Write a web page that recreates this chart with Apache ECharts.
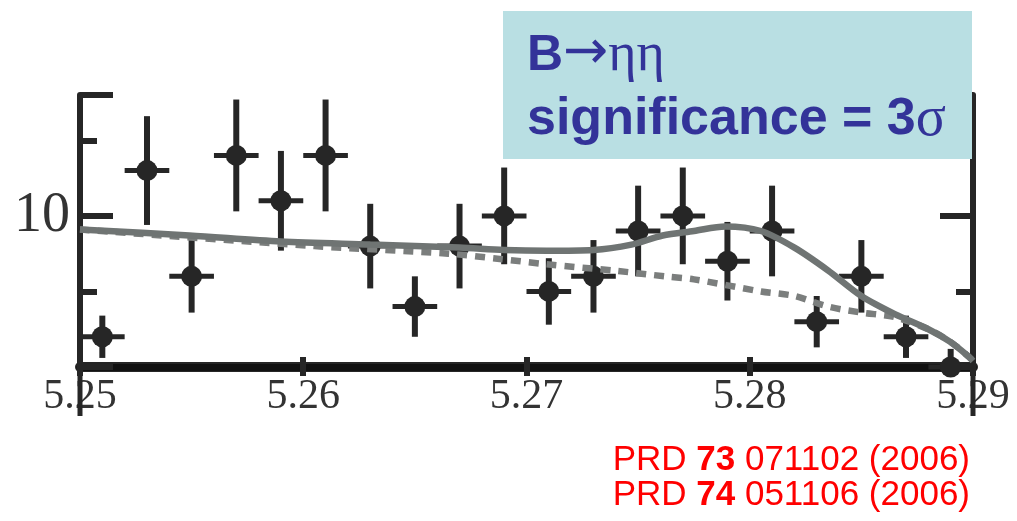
<!DOCTYPE html>
<html>
<head>
<meta charset="utf-8">
<script src="https://cdn.jsdelivr.net/npm/echarts@6/dist/echarts.min.js"></script>
<style>
  html, body { margin: 0; padding: 0; background: #fff; }
  #chart { width: 1017px; height: 521px; }
</style>
</head>
<body>
<div id="chart"></div>
<script>
// Mbc bin centres (GeV) and event counts with their error bars
const binX = [5.251, 5.253, 5.255, 5.257, 5.259, 5.261, 5.263, 5.265, 5.267, 5.269,
  5.271, 5.273, 5.275, 5.277, 5.279, 5.281, 5.283, 5.285, 5.287, 5.289]
const counts = [2, 13, 6, 14, 11, 14, 8, 4, 8, 10, 5, 6, 9, 10, 7, 9, 3, 6, 2, 0]
const errs = [1.4, 3.6, 2.4, 3.7, 3.3, 3.7, 2.8, 2.0, 2.8, 3.2, 2.2, 2.4, 3.0, 3.2, 2.6, 3.0, 1.7, 2.4, 1.4, 1.2]
const binHalf = 0.001

// total fit (solid)
const fitX = [5.25, 5.2549, 5.259, 5.263, 5.267, 5.269, 5.2709, 5.273, 5.2747, 5.2761,
  5.2775, 5.2789, 5.2805, 5.282, 5.2835, 5.285, 5.2865, 5.288, 5.289, 5.2898, 5.29]
const fitY = [9.1, 8.7, 8.3, 8.1, 7.9, 7.75, 7.7, 7.75, 8.1, 8.7,
  9.0, 9.3, 9.0, 7.9, 6.4, 4.7, 3.5, 2.5, 1.65, 0.7, 0.4]

// background (dashed)
const bkgX = [5.25, 5.2605, 5.2665, 5.2688, 5.2709, 5.2741, 5.2762, 5.2775, 5.2805,
  5.282, 5.2835, 5.285, 5.2865, 5.288, 5.289, 5.2898, 5.29]
const bkgY = [9.1, 8.0, 7.5, 7.15, 6.8, 6.35, 6.0, 5.8, 5.0,
  4.7, 4.0, 3.6, 3.3, 2.5, 1.65, 0.7, 0.4]

const xTicks = { min: 5.25, max: 5.29, step: 0.01 }
const yTicks = { min: 0, max: 18, step: 5 }
const yLabels = [10]

const ink = '#262626'
const serif = 'Liberation Serif'
const blue = '#333399'
const red = '#ff0000'

const chart = echarts.init(document.getElementById('chart'))

const baseX = {
  type: 'value', min: xTicks.min, max: xTicks.max, interval: xTicks.step,
  splitLine: { show: false }
}
const baseY = {
  type: 'value', min: yTicks.min, max: yTicks.max,
  splitLine: { show: false }
}

chart.setOption({
  animation: false,
  backgroundColor: '#fff',
  grid: { left: 80, right: 44, top: 95, bottom: 154 },
  xAxis: [
    {
      ...baseX, position: 'bottom',
      axisLine: { lineStyle: { color: ink, width: 10 } },
      axisTick: { inside: true, length: 10, lineStyle: { color: ink, width: 6 } },
      axisLabel: {
        color: '#333', fontFamily: serif, fontSize: 42, margin: 9,
        showMinLabel: true, showMaxLabel: true,
        formatter: v => v.toFixed(2)
      }
    },
    {
      ...baseX, position: 'bottom',
      axisLine: { show: false },
      axisTick: { inside: false, length: 9, lineStyle: { color: ink, width: 6 } },
      axisLabel: { show: false }
    },
    {
      ...baseX, position: 'top',
      axisLine: { lineStyle: { color: '#111', width: 7 } },
      axisTick: { show: false }, axisLabel: { show: false }
    }
  ],
  yAxis: [
    {
      ...baseY, interval: yTicks.step, position: 'left',
      axisLine: { show: true, lineStyle: { color: ink, width: 6 } },
      axisTick: { show: true, inside: true, length: 17, lineStyle: { color: ink, width: 6 } },
      axisLabel: {
        color: '#333', fontFamily: serif, fontSize: 56, margin: 10,
        padding: [10, 0, 0, 0],
        formatter: v => (yLabels.includes(v) ? String(v) : '')
      }
    },
    {
      ...baseY, interval: 10, position: 'left',
      axisLine: { show: false },
      axisTick: { show: true, inside: true, length: 33, lineStyle: { color: ink, width: 6 } },
      axisLabel: { show: false }
    },
    {
      ...baseY, interval: yTicks.step, position: 'right',
      axisLine: { show: true, lineStyle: { color: ink, width: 6 } },
      axisTick: { show: true, inside: true, length: 17, lineStyle: { color: ink, width: 6 } },
      axisLabel: { show: false }
    },
    {
      ...baseY, interval: 10, position: 'right',
      axisLine: { show: false },
      axisTick: { show: true, inside: true, length: 33, lineStyle: { color: ink, width: 6 } },
      axisLabel: { show: false }
    }
  ],
  series: [
    {
      type: 'custom',
      name: 'data',
      clip: false,
      z: 2,
      data: binX.map((x, i) => [x, counts[i], errs[i]]),
      renderItem: (params, api) => {
        const x = api.value(0), y = api.value(1), e = api.value(2)
        const c = api.coord([x, y])
        const up = api.coord([x, y + e])
        const dn = api.coord([x, Math.max(y - e, 0)])
        const l = api.coord([x - binHalf, y])
        const r = api.coord([x + binHalf, y])
        return {
          type: 'group',
          children: [
            { type: 'line', shape: { x1: c[0], y1: up[1], x2: c[0], y2: dn[1] },
              style: { stroke: ink, lineWidth: 6 } },
            { type: 'line', shape: { x1: l[0], y1: c[1], x2: r[0], y2: c[1] },
              style: { stroke: ink, lineWidth: 5 } },
            { type: 'circle', shape: { cx: c[0], cy: c[1], r: 10.5 },
              style: { fill: ink } }
          ]
        }
      }
    },
    {
      type: 'line',
      name: 'background',
      z: 3,
      smooth: 0.3,
      showSymbol: false,
      data: bkgX.map((x, i) => [x, bkgY[i]]),
      lineStyle: { color: '#7b7e7d', width: 6.5, type: [10, 8] }
    },
    {
      type: 'line',
      name: 'total',
      z: 4,
      smooth: 0.3,
      showSymbol: false,
      data: fitX.map((x, i) => [x, fitY[i]]),
      lineStyle: { color: '#6f7473', width: 6.5 }
    }
  ],
  graphic: [
    // frame sides run on through the tick labels, as in the scanned plot
    { type: 'line', z: 50, shape: { x1: 80, y1: 368, x2: 80, y2: 416 },
      style: { stroke: ink, lineWidth: 5 } },
    { type: 'line', z: 50, shape: { x1: 973, y1: 368, x2: 973, y2: 416 },
      style: { stroke: ink, lineWidth: 5 } },
    {
      type: 'rect', z: 100,
      shape: { x: 503, y: 11, width: 469, height: 148 },
      style: { fill: '#b9dfe3' }
    },
    {
      type: 'text', z: 101, x: 527, y: 56,
      style: {
        text: '{b|B}{a|→}{s|ηη}',
        verticalAlign: 'middle',
        rich: {
          b: { fontFamily: 'Liberation Sans', fontWeight: 'bold', fontSize: 50, fill: blue },
          a: { fontFamily: 'DejaVu Sans', fontSize: 54, fill: blue, padding: [0, 0, 4, 0] },
          s: { fontFamily: serif, fontSize: 54, fill: blue }
        }
      }
    },
    {
      type: 'text', z: 101, x: 527, y: 120,
      style: {
        text: '{b|significance = 3}{s|σ}',
        verticalAlign: 'middle',
        rich: {
          b: { fontFamily: 'Liberation Sans', fontWeight: 'bold', fontSize: 52, fill: blue },
          s: { fontFamily: serif, fontSize: 56, fill: blue }
        }
      }
    },
    {
      type: 'text', z: 101, x: 970, y: 460,
      style: {
        text: '{n|PRD }{b|73}{n| 071102 (2006)}',
        align: 'right', verticalAlign: 'middle',
        rich: {
          n: { fontFamily: 'Liberation Sans', fontSize: 35, fill: red },
          b: { fontFamily: 'Liberation Sans', fontWeight: 'bold', fontSize: 35, fill: red }
        }
      }
    },
    {
      type: 'text', z: 101, x: 970, y: 495,
      style: {
        text: '{n|PRD }{b|74}{n| 051106 (2006)}',
        align: 'right', verticalAlign: 'middle',
        rich: {
          n: { fontFamily: 'Liberation Sans', fontSize: 35, fill: red },
          b: { fontFamily: 'Liberation Sans', fontWeight: 'bold', fontSize: 35, fill: red }
        }
      }
    }
  ]
})
</script>
</body>
</html>
